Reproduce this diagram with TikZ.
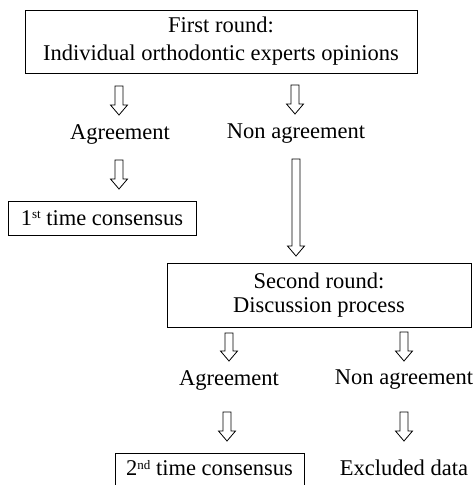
\documentclass[tikz,border=0pt]{standalone}
\usepackage{fontspec}
\setmainfont{Liberation Serif}
\newcommand\supx[1]{\raisebox{0.62ex}{\fontsize{13}{13}\selectfont #1}}
\tikzset{
  box/.style={draw, line width=0.8pt, inner sep=0pt, align=center, font=\fontsize{22.5}{28}\selectfont},
  lbl/.style={inner sep=0pt, font=\fontsize{22.5}{28}\selectfont},
  harrow/.style={draw, line width=0.8pt, line join=miter, fill=white}
}
\newcommand\hollowarrow[3]{% x, ytop, ybottom
  \draw[harrow] (#1-4,#2) -- (#1+4,#2) -- (#1+4,#3-10) -- (#1+8.5,#3-10) -- (#1,#3) -- (#1-8.5,#3-10) -- (#1-4,#3-10) -- cycle;}
\begin{document}
\begin{tikzpicture}[x=1pt,y=-1pt]
\useasboundingbox (0,0) rectangle (476,485);
\clip (0,0) rectangle (476,485);
\node[box, minimum width=392pt, minimum height=63pt] (r1) at (221,41.5) {First round:\\Individual orthodontic experts opinions};
\node[lbl] (a1) at (120,134) {Agreement};
\node[lbl] (n1) at (296,134) {Non agreement};
\node[box, minimum width=188pt, minimum height=34pt] (c1) at (102,218) {1\supx{st} time consensus};
\node[box, minimum width=304pt, minimum height=64pt, font=\fontsize{22.5}{24.5}\selectfont] (r2) at (319,295) {Second round:\\Discussion process};
\node[lbl] (a2) at (229,380) {Agreement};
\node[lbl] (n2) at (404,380) {Non agreement};
\node[draw, line width=0.8pt, minimum width=189pt, minimum height=44pt, inner sep=0pt] (c2) at (209.5,475) {};
\node[lbl] (c2t) at (209.5,468) {2\supx{nd} time consensus};
\node[lbl] (ex) at (404,468) {Excluded data};
\hollowarrow{119}{86}{115}
\hollowarrow{295}{85}{114}
\hollowarrow{119}{160}{189}
\hollowarrow{296}{159}{256}
\hollowarrow{229}{333}{361}
\hollowarrow{404}{332}{361}
\hollowarrow{227}{412}{441}
\hollowarrow{404}{412}{441}
\end{tikzpicture}
\end{document}
